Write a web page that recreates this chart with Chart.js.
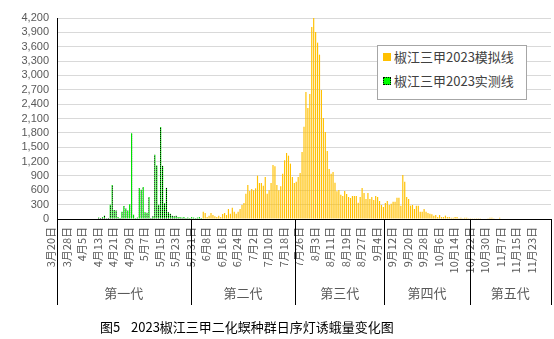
<!DOCTYPE html>
<html>
<head>
<meta charset="utf-8">
<script src="https://cdn.jsdelivr.net/npm/chart.js@4.4.0/dist/chart.umd.min.js"></script>
<style>
html, body { margin: 0; padding: 0; background: #fff; }
#wrap { position: relative; width: 554px; height: 339px; }
#legend { position: absolute; left: 377px; top: 45px; width: 148px; height: 53px; border: 1px solid #a6a6a6; background: #fff; font: 13px "Noto Sans CJK SC"; color: #404040; }
#legend .row { position: absolute; left: 5px; height: 20px; line-height: 20px; white-space: nowrap; }
#legend .box { display: inline-block; width: 8px; height: 8px; box-sizing: border-box; vertical-align: middle; margin-right: 3px; position: relative; top: -1px; }
.caption { position: absolute; top: 318px; font: 13px "Noto Sans CJK SC"; color: #000; line-height: 18px; white-space: nowrap; }
</style>
</head>
<body>
<div id="wrap">
  <canvas id="myChart" width="554" height="339"></canvas>
  <div id="legend">
    <div class="row" style="top:1px"><span class="box" style="background:#ffc000"></span><span id="lg0"></span></div>
    <div class="row" style="top:25px"><span class="box" style="background:#00ff00;border:1px dotted #000"></span><span id="lg1"></span></div>
  </div>
  <div class="caption" style="left:100px">图5</div>
  <div class="caption" style="left:131px">2023椒江三甲二化螟种群日序灯诱蛾量变化图</div>
</div>
<script>
// data
var seriesNames = ['椒江三甲2023模拟线', '椒江三甲2023实测线'];
var groupNames = ['第一代', '第二代', '第三代', '第四代', '第五代'];
var groupSizes = [69, 54, 46, 44, 42];   // days in each generation
var dayCount = 255;                      // 3月20日 onward

// measured (green), from 3月20日
var measured = [0, 0, 0, 0, 0, 0, 0, 0, 0, 0, 0, 0, 0, 0, 0, 0, 0, 0, 0, 0,
    0, 30, 20, 40, 70, 14, 20, 300, 711, 190, 180, 40, 20, 150, 270, 220, 180, 310, 1790, 90,
    20, 30, 650, 610, 670, 140, 130, 460, 20, 60, 1340, 1120, 300, 1920, 1110, 330, 650, 140, 110, 70,
    60, 70, 40, 40, 30, 40, 20, 30, 20, 40, 30, 20, 30, 40, 20];

// simulated (yellow), starts on day index 75
var simStart = 75;
var simValues = [153, 125, 42, 70, 125, 84, 56, 42, 70, 42, 105, 125, 84, 209, 111, 237, 153, 111, 153, 209,
    293, 334, 530, 711, 585, 627, 599, 641, 906, 752, 752, 697, 878, 530, 599, 752, 1129, 1101, 711, 599,
    683, 948, 1226, 1379, 1324, 1157, 878, 752, 780, 878,
    961, 1400, 1930, 2654, 2320, 2612, 4013, 4200, 3908, 3685, 3434, 2696, 2111, 1818, 1421, 1045, 947, 982, 759, 578,
    606, 509, 481, 585, 523, 460, 439, 481, 481, 481, 341, 460, 648, 543, 418, 543, 418, 460, 397, 481, 460,
    376, 293, 251, 334, 376, 293, 320, 362, 362, 446, 446, 279, 920, 780, 460, 418, 279, 293, 209, 279,
    279, 153, 153, 209, 153, 125, 111, 98, 70, 84, 42, 84, 42, 42, 70, 42, 42, 28, 28, 42,
    42, 14, 28, 14, 28, 28, 14, 14, 14, 14, 14, 14, 14, 0, 0, 0, 14, 28, 28, 14, 0, 0, 28];

// categories: one per day
var categories = [];
var d0 = new Date(2023, 2, 20);
for (var i = 0; i < dayCount; i++) {
    var d = new Date(d0.getTime() + i * 86400000);
    categories.push((d.getMonth() + 1) + '月' + d.getDate() + '日');
}

var simulated = categories.map(function (_, i) {
    var v = simValues[i - simStart];
    return v === undefined ? null : v;
});
var measuredFull = categories.map(function (_, i) {
    return i < measured.length ? measured[i] : null;
});

document.getElementById('lg0').textContent = seriesNames[0];
document.getElementById('lg1').textContent = seriesNames[1];

// dotted fill for measured bars
var pc = document.createElement('canvas');
pc.width = 2; pc.height = 2;
var pctx = pc.getContext('2d');
pctx.fillStyle = '#00e000'; pctx.fillRect(0, 0, 2, 2);
pctx.fillStyle = '#000'; pctx.fillRect(0, 0, 1, 1);
var ctx = document.getElementById('myChart').getContext('2d');
var dotted = ctx.createPattern(pc, 'repeat');

// generation dividers and names under the axis
var groupAxis = {
    id: 'groupAxis',
    afterDraw: function (chart) {
        var x = chart.scales.x, area = chart.chartArea, c = chart.ctx;
        var half = (x.getPixelForValue(1) - x.getPixelForValue(0)) / 2;
        var edges = [area.left], n = 0;
        groupSizes.forEach(function (s) {
            n += s;
            edges.push(n >= categories.length ? area.right : x.getPixelForValue(n) - half);
        });
        c.save();
        c.strokeStyle = '#000';
        c.lineWidth = 1;
        edges.forEach(function (px) {
            var p = Math.round(px) + 0.5;
            c.beginPath();
            c.moveTo(p, area.bottom);
            c.lineTo(p, area.bottom + 86);
            c.stroke();
        });
        c.fillStyle = '#595959';
        c.font = '13px "Noto Sans CJK SC"';
        c.textAlign = 'center';
        c.textBaseline = 'middle';
        groupNames.forEach(function (g, i) {
            c.fillText(g, (edges[i] + edges[i + 1]) / 2, area.bottom + 74);
        });
        c.restore();
    }
};

var myChart = new Chart(ctx, {
    type: 'bar',
    data: {
        labels: categories,
        datasets: [{
            label: seriesNames[0],
            data: simulated,
            backgroundColor: '#ffc000',
            borderWidth: 0
        }, {
            label: seriesNames[1],
            data: measuredFull,
            backgroundColor: dotted,
            borderWidth: 0
        }]
    },
    options: {
        responsive: false,
        animation: false,
        events: [],
        layout: { padding: { top: 18, right: 3, bottom: 34, left: 0 } },
        datasets: {
            bar: { grouped: false, categoryPercentage: 1, barPercentage: 0.6 }
        },
        plugins: {
            legend: { display: false },
            tooltip: { enabled: false }
        },
        scales: {
            x: {
                grid: { display: false, drawTicks: false },
                border: { display: true, color: '#000', width: 1 },
                ticks: {
                    autoSkip: false,
                    minRotation: 90,
                    maxRotation: 90,
                    padding: 8,
                    labelOffset: -7,
                    color: '#595959',
                    font: { family: 'Noto Sans CJK SC', size: 11 },
                    callback: function (val, i) {
                        return i % 8 === 0 ? categories[i] : '';
                    }
                },
                afterFit: function (scale) {
                    scale.height = 86;
                    scale.paddingLeft = 0;
                    scale.paddingRight = 0;
                }
            },
            y: {
                min: 0,
                max: 4200,
                grid: { color: '#d9d9d9', drawTicks: false },
                border: { display: true, color: '#000', width: 1 },
                ticks: {
                    stepSize: 300,
                    autoSkip: false,
                    padding: 8,
                    color: '#595959',
                    font: { family: 'Liberation Sans', size: 11 },
                    callback: function (v) { return v.toLocaleString('en-US'); }
                },
                afterFit: function (scale) { scale.width = 57; }
            }
        }
    },
    plugins: [groupAxis]
});
</script>
</body>
</html>
